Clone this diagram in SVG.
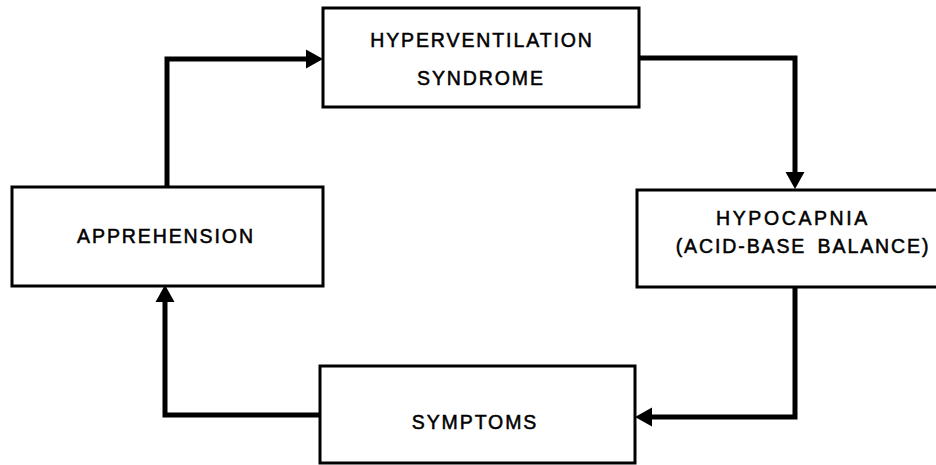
<svg xmlns="http://www.w3.org/2000/svg" width="936" height="465" viewBox="0 0 936 465">
  <style>
    .box { fill: #ffffff; stroke: #000000; stroke-width: 3; }
    .lbl { font-family: "Liberation Sans", Arial, sans-serif; font-size: 19.5px; fill: #000000; stroke: #000000; stroke-width: 0.5; text-anchor: middle; letter-spacing: 1.9px; }
    .conn { fill: none; stroke: #000000; stroke-width: 5; stroke-linejoin: miter; stroke-linecap: butt; marker-end: url(#arrow); }
  </style>
  <defs>
    <marker id="arrow" markerUnits="userSpaceOnUse" markerWidth="18" markerHeight="20" viewBox="0 0 18 20" refX="7" refY="10" orient="auto">
      <path d="M0,0.5 L17,10 L0,19.5 Z" fill="#000000"/>
    </marker>
  </defs>
  <rect width="936" height="465" fill="#ffffff"/>

  <g id="connectors">
    <path class="conn" d="M167,187 V59 H313"/>
    <path class="conn" d="M639,58 H795 V179"/>
    <path class="conn" d="M795,287 V417 H645"/>
    <path class="conn" d="M320,415 H165 V295"/>
  </g>

  <g id="hyperventilation">
    <rect class="box" x="323" y="8" width="316" height="99"/>
    <text class="lbl" x="482" y="47">HYPERVENTILATION</text>
    <text class="lbl" x="481" y="85">SYNDROME</text>
  </g>

  <g id="hypocapnia">
    <rect class="box" x="637" y="190" width="320" height="97"/>
    <text class="lbl" x="793" y="225" style="letter-spacing:2.6px">HYPOCAPNIA</text>
    <text class="lbl" x="803" y="253" style="word-spacing:4px">(ACID-BASE BALANCE)</text>
  </g>

  <g id="symptoms">
    <rect class="box" x="320" y="366" width="315" height="97"/>
    <text class="lbl" x="475" y="429">SYMPTOMS</text>
  </g>

  <g id="apprehension">
    <rect class="box" x="12" y="187" width="311" height="99"/>
    <text class="lbl" x="166" y="243">APPREHENSION</text>
  </g>
</svg>
